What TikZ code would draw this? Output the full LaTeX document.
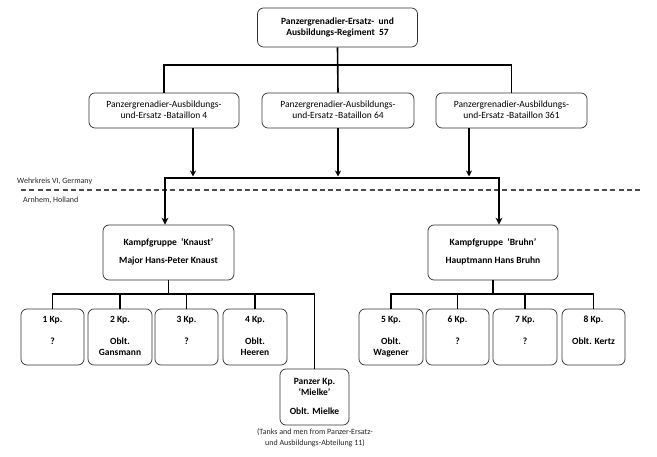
\documentclass[tikz,border=0pt]{standalone}
\usepackage{fontspec}
\setmainfont{Carlito}
\usetikzlibrary{arrows.meta}
\begin{document}
\begin{tikzpicture}[x=1pt,y=-1pt,
  box/.style={draw=black!80, line width=0.7pt, rounded corners=6pt, fill=white,
    align=center, inner sep=0pt, font=\fontsize{9.5}{11}\selectfont\bfseries},
  batbox/.style={box, font=\fontsize{9.5}{11}\selectfont},
  conn/.style={line width=1.6pt, black},
  thk/.style={line width=2.4pt, black, line join=miter},
  tip/.style={-{Stealth[length=6pt,width=6pt]}},
  sidelabel/.style={anchor=west, inner sep=0pt, font=\fontsize{8}{10}\selectfont, text=black!85},
  caption/.style={align=center, inner sep=0pt, font=\fontsize{8}{11}\selectfont, text=black!85}]
\useasboundingbox[fill=white] (0,0) rectangle (657,457);

% ---- boxes ----
\node[box, minimum width=160pt, minimum height=39pt] (top) at (337.5,27.5)
  {\strut Panzergrenadier-Ersatz-\ \ und\\Ausbildungs-Regiment\ \ 57\strut};

\node[batbox, minimum width=150pt, minimum height=35pt] (b1) at (164,110.5)
  {\strut Panzergrenadier-Ausbildungs-\\und-Ersatz -Bataillon 4\strut};
\node[batbox, minimum width=152pt, minimum height=35pt] (b2) at (338,110.5)
  {\strut Panzergrenadier-Ausbildungs-\\und-Ersatz -Bataillon 64\strut};
\node[batbox, minimum width=151pt, minimum height=35pt] (b3) at (511.5,110.5)
  {\strut Panzergrenadier-Ausbildungs-\\und-Ersatz -Bataillon 361\strut};

\node[box, minimum width=131pt, minimum height=55pt] (kA) at (168.5,252.5)
  {\strut Kampfgruppe\ \ ‘Knaust’\\[7pt]Major Hans-Peter Knaust\strut};
\node[box, minimum width=130pt, minimum height=55pt] (kB) at (493,252.5)
  {\strut Kampfgruppe\ \ ‘Bruhn’\\[7pt]Hauptmann Hans Bruhn\strut};

\node[box, minimum width=63pt, minimum height=56pt] (c1) at (52.5,337)
  {\strut 1 Kp.\\ \\ ?\\ \strut};
\node[box, minimum width=64pt, minimum height=56pt] (c2) at (120,337)
  {\strut 2 Kp.\\ \\ Oblt.\\Gansmann\strut};
\node[box, minimum width=63pt, minimum height=56pt] (c3) at (186.5,337)
  {\strut 3 Kp.\\ \\ ?\\ \strut};
\node[box, minimum width=64pt, minimum height=56pt] (c4) at (255,337)
  {\strut 4 Kp.\\ \\ Oblt.\\Heeren\strut};

\node[box, minimum width=64pt, minimum height=56pt] (c5) at (391,337)
  {\strut 5 Kp.\\ \\ Oblt.\\Wagener\strut};
\node[box, minimum width=63pt, minimum height=56pt] (c6) at (457.5,337)
  {\strut 6 Kp.\\ \\ ?\\ \strut};
\node[box, minimum width=64pt, minimum height=56pt] (c7) at (525,337)
  {\strut 7 Kp.\\ \\ ?\\ \strut};
\node[box, minimum width=63pt, minimum height=56pt] (c8) at (593.5,337)
  {\strut 8 Kp.\\ \\ Oblt. Kertz\\ \strut};

\node[box, minimum width=69pt, minimum height=56pt] (pz) at (314.5,397)
  {\strut Panzer Kp.\\‘Mielke’\\[8pt]Oblt. Mielke\strut};

\node[caption] (cap) at (315,438)
  {(Tanks and men from Panzer-Ersatz-\\und Ausbildungs-Abteilung 11)};

% ---- side labels and border line ----
\node[sidelabel] (wk) at (17,181) {Wehrkreis VI, Germany};
\node[sidelabel] (ar) at (23,200) {Arnhem, Holland};
\coordinate (dashL) at (21,190);
\coordinate (dashR) at (640,190);
\draw[line width=1.1pt, black!70, dash pattern=on 5pt off 3.3pt] (dashL) -- (dashR);

% ---- connectors ----
\coordinate (busT) at (0,65);
\draw[conn] (top.south) -- (b2.north);
\draw[conn] (b1.north) -- (b1.north |- busT) -- (b3.north |- busT) -- (b3.north);

\coordinate (in1) at (193,176.5);
\coordinate (in2) at (338,176.5);
\coordinate (in3) at (469,176.5);
\draw[conn, tip] (b1.south -| in1) -- (in1);
\draw[conn, tip] (b2.south -| in2) -- (in2);
\draw[conn, tip] (b3.south -| in3) -- (in3);

\coordinate (barL) at (165,178);
\coordinate (barR) at (499,178);
\draw[thk, {Stealth[length=7pt,width=7pt]}-{Stealth[length=7pt,width=7pt]}]
  (kA.north -| barL) -- (barL) -- (barR) -- (kB.north -| barR);

\coordinate (busC) at (0,294);
\draw[conn] (kA.south) -- (kA.south |- busC);
\draw[conn] (c1.north) -- (c1.north |- busC) -- (pz.north |- busC) -- (pz.north);
\draw[conn] (c2.north) -- (c2.north |- busC);
\draw[conn] (c3.north) -- (c3.north |- busC);
\draw[conn] (c4.north) -- (c4.north |- busC);

\draw[conn] (kB.south) -- (kB.south |- busC);
\draw[conn] (c5.north) -- (c5.north |- busC) -- (c8.north |- busC) -- (c8.north);
\draw[conn] (c6.north) -- (c6.north |- busC);
\draw[conn] (c7.north) -- (c7.north |- busC);
\end{tikzpicture}
\end{document}
